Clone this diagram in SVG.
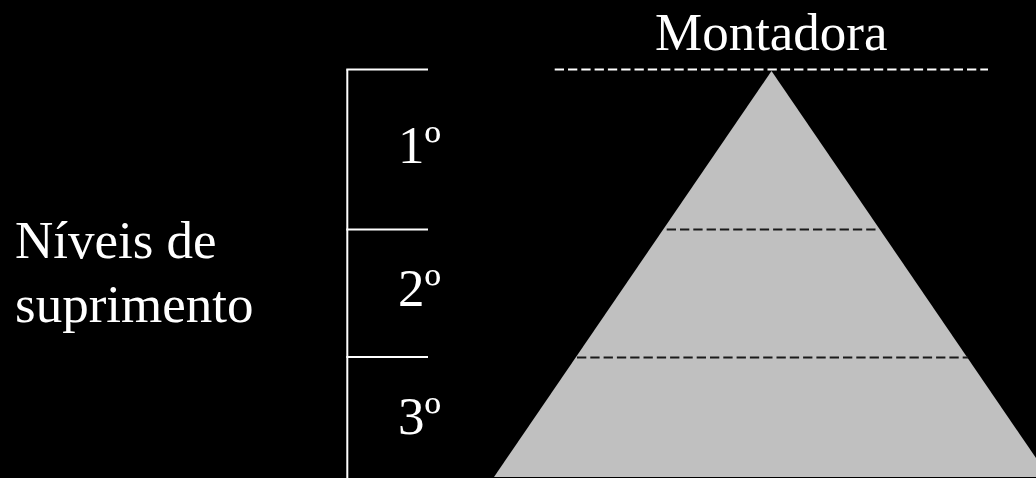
<svg xmlns="http://www.w3.org/2000/svg" width="1036" height="478" viewBox="0 0 1036 478">
  <style>
    .t { font-family: "Liberation Serif", "Times New Roman", serif; font-size: 53px; fill: #ffffff; }
    .br { stroke: #ffffff; stroke-width: 2; fill: none; }
    .dw { stroke: #ffffff; stroke-width: 2; stroke-dasharray: 9.3 4; fill: none; }
    .dk { stroke: #1a1a1a; stroke-width: 2.2; stroke-dasharray: 9.3 4; fill: none; }
  </style>
  <rect x="0" y="0" width="1036" height="478" fill="#000000"/>
  <g id="pyramid">
    <polygon points="771.5,71 494,477 1049,477" fill="#c0c0c0"/>
    <line class="dk" x1="666.7" y1="229.5" x2="877" y2="229.5"/>
    <line class="dk" x1="577" y1="357.5" x2="968" y2="357.5"/>
  </g>
  <g id="montadora">
    <text class="t" x="655" y="50">Montadora</text>
    <line class="dw" x1="554.7" y1="69.5" x2="988" y2="69.5"/>
  </g>
  <g id="niveis">
    <text class="t" x="15" y="258">Níveis de</text>
    <text class="t" x="15" y="322">suprimento</text>
  </g>
  <g id="bracket">
    <line class="br" x1="347.3" y1="69.5" x2="347.3" y2="478"/>
    <line class="br" x1="346.3" y1="69.5" x2="428" y2="69.5"/>
    <line class="br" x1="346.3" y1="229.5" x2="428" y2="229.5"/>
    <line class="br" x1="346.3" y1="357" x2="428" y2="357"/>
  </g>
  <g id="level1"><text class="t" x="398" y="163">1º</text></g>
  <g id="level2"><text class="t" x="398" y="306">2º</text></g>
  <g id="level3"><text class="t" x="398" y="434">3º</text></g>
</svg>
